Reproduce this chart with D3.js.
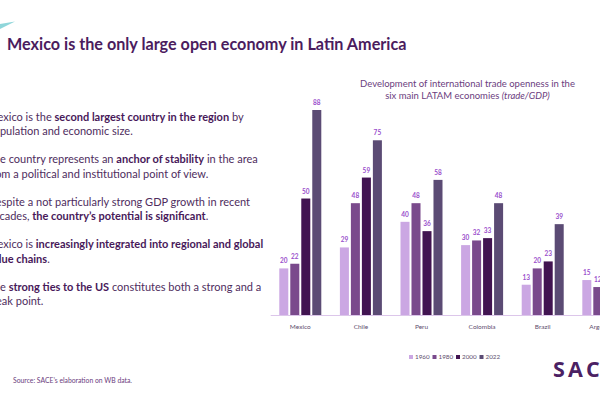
<!DOCTYPE html>
<html><head><meta charset="utf-8">
<script src="https://cdn.jsdelivr.net/npm/d3@7"></script>
<style>html,body{margin:0;padding:0;background:#fff;overflow:hidden}</style>
</head><body>
<svg id="c" width="600" height="400"></svg>
<script>
const countries = ["Mexico","Chile","Peru","Colombia","Brazil","Argentina"];
const years = ["1960","1980","2000","2022"];
const v1960 = [20,29,40,30,13,15];
const v1980 = [22,48,48,32,20,12];
const v2000 = [50,59,36,33,23,22];
const v2022 = [88,75,58,48,39,29];
const seriesValues = [v1960,v1980,v2000,v2022];
const colors = ["#cba7e3","#7a4a8c","#411451","#5b4b74"];

const mainTitle = "Mexico is the only large open economy in Latin America";
const chartTitle1 = "Development of international trade openness in the";
const chartTitle2a = "six main LATAM economies ";
const chartTitle2b = "(trade/GDP)";
const sourceText = "Source: SACE\u2019s elaboration on WB data.";
const bullets = [
  [["Mexico is the ",0],["second largest country in the region",1],[" by",0]],
  [["population and economic size.",0]],
  null,
  [["The country represents an ",0],["anchor of stability",1],[" in the area",0]],
  [["from a political and institutional point of view.",0]],
  null,
  [["Despite a not particularly strong GDP growth in recent",0]],
  [["decades, ",0],["the country\u2019s potential is significant",1],[".",0]],
  null,
  [["Mexico is ",0],["increasingly integrated into regional and global",1]],
  [["value chains",1],[".",0]],
  null,
  [["The ",0],["strong ties to the US",1],[" constitutes both a strong and a",0]],
  [["weak point.",0]]
];

const svg = d3.select("#c");
const F = "Lato, 'Open Sans', sans-serif";

// decorative wedge
svg.append("polygon").attr("points","0,24 15,21.5 0,29").attr("fill","#8fd6da");

// main title
svg.append("text").attr("x",7).attr("y",50).attr("font-family",F).attr("font-weight","bold")
  .attr("font-size",16.2).attr("fill","#4b1c5e").text(mainTitle);

// bullets
let by = 121;
const bx = -12.5;
bullets.forEach(line => {
  if (line === null) { by += 13.8; return; }
  const t = svg.append("text").attr("x",bx).attr("y",by).attr("font-family",F)
    .attr("font-size",11).attr("fill","#4e2d5e");
  line.forEach(([s,b]) => t.append("tspan").attr("font-weight",b?"bold":"normal")
    .attr("fill", b?"#48195a":"#4e2d5e").text(s));
  by += 14.3;
});

// chart
const x0 = d3.scaleBand().domain(countries).range([270.2,633.4]).paddingInner(0.307).paddingOuter(0.15);
const x1 = d3.scaleBand().domain(years).range([0,x0.bandwidth()]).paddingInner(0.18);
const y = d3.scaleLinear().domain([0,88]).range([315,110]);

const g = svg.append("g");
countries.forEach((c,i) => {
  years.forEach((yr,j) => {
    const v = seriesValues[j][i];
    g.append("rect").attr("x",x0(c)+x1(yr)).attr("y",y(v)).attr("width",x1.bandwidth())
      .attr("height",y(0)-y(v)).attr("fill",colors[j]);
    g.append("text").attr("x",x0(c)+x1(yr)+x1.bandwidth()/2).attr("y",y(v)-5)
      .attr("text-anchor","middle").attr("font-family",F).attr("font-weight","bold")
      .attr("font-size",6.5).attr("fill","#9a4fcc").text(v);
  });
});

const ax = svg.append("g").attr("transform","translate(0,315)")
  .call(d3.axisBottom(x0).tickSize(0).tickPadding(9));
ax.select(".domain").attr("stroke","#dcc6ea").attr("stroke-width",1);
ax.selectAll("text").attr("font-family",F).attr("font-size",6.5).attr("fill","#5e4e6e");

// chart title
svg.append("text").attr("x",467.5).attr("y",86.5).attr("text-anchor","middle").attr("font-family",F)
  .attr("font-size",9.5).attr("fill","#6b3d7e").text(chartTitle1);
const t2 = svg.append("text").attr("x",467.5).attr("y",99).attr("text-anchor","middle").attr("font-family",F)
  .attr("font-size",9.5).attr("fill","#6b3d7e");
t2.append("tspan").text(chartTitle2a);
t2.append("tspan").attr("font-style","italic").text(chartTitle2b);

// legend
const lg = svg.append("g").attr("transform","translate(409,357)");
years.forEach((yr,j) => {
  const gx = j*23.5;
  lg.append("rect").attr("x",gx).attr("y",-2).attr("width",4).attr("height",4).attr("fill",colors[j]);
  lg.append("text").attr("x",gx+6).attr("y",2.3).attr("font-family",F).attr("font-size",6.3)
    .attr("fill","#5e4e6e").text(yr);
});

// source
svg.append("text").attr("x",13).attr("y",383).attr("font-family",F).attr("font-size",6.8)
  .attr("fill","#6b3d7e").text(sourceText);

// logo
svg.append("text").attr("x",553).attr("y",377).attr("font-family","'Open Sans', Lato, sans-serif")
  .attr("font-weight","bold").attr("font-size",21.5).attr("letter-spacing",3.2).attr("fill","#4b2163").text("SACE");
</script>
</body></html>
